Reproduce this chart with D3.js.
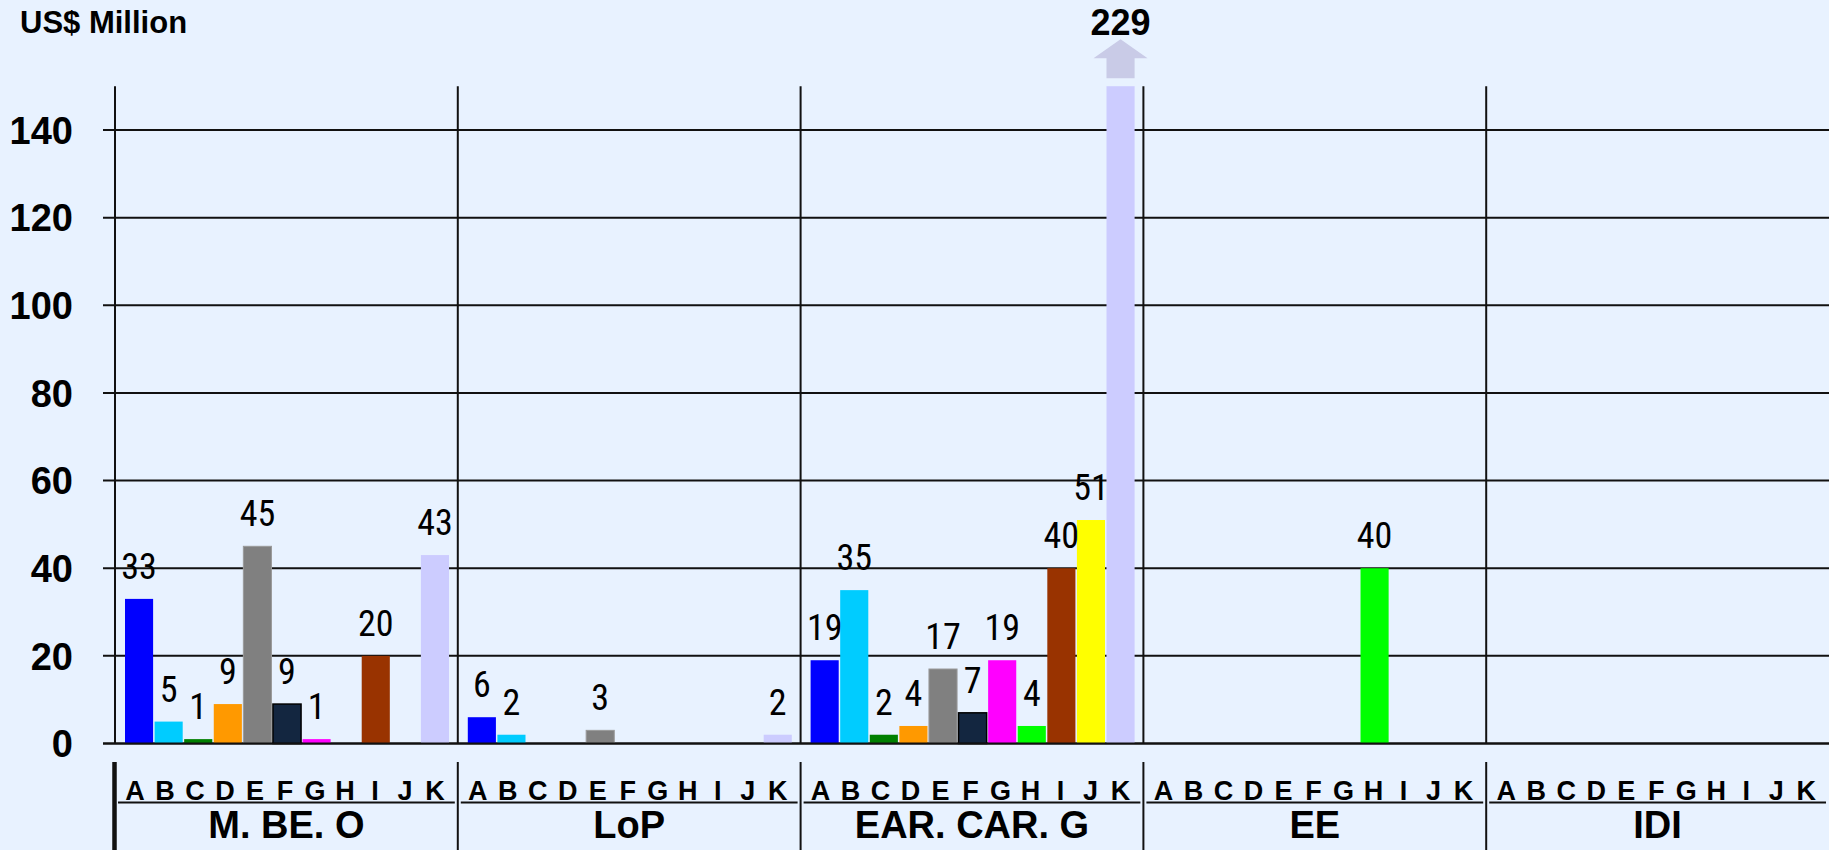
<!DOCTYPE html>
<html><head><meta charset="utf-8">
<script src="https://cdn.jsdelivr.net/npm/d3@7"></script>
<style>html,body{margin:0;padding:0;background:#e8f2ff;} svg{display:block}</style>
</head><body><svg id="c" width="1829" height="850"></svg>
<script>
const groups = ["M. BE. O", "LoP", "EAR. CAR. G", "EE", "IDI"];
const categories = ["A","B","C","D","E","F","G","H","I","J","K"];
const colors = ["#0000ff","#00ccff","#008000","#ff9900","#808080","#132640","#ff00ff","#00ff00","#993300","#ffff00","#ccccff"];
const valuesMBEO = [33, 5, 1, 9, 45, 9, 1, 0, 20, 0, 43];
const valuesLoP  = [6, 2, 0, 0, 3, 0, 0, 0, 0, 0, 2];
const valuesEAR  = [19, 35, 2, 4, 17, 7, 19, 4, 40, 51, 229];
const valuesEE   = [0, 0, 0, 0, 0, 0, 0, 40, 0, 0, 0];
const valuesIDI  = [0, 0, 0, 0, 0, 0, 0, 0, 0, 0, 0];
const yTicks = [0, 20, 40, 60, 80, 100, 120, 140];
const yMax = 150;
const unitLabel = "US$ Million";

const seriesByGroup = [valuesMBEO, valuesLoP, valuesEAR, valuesEE, valuesIDI];
const data = [];
groups.forEach((g, gi) => categories.forEach((c, ci) => data.push({group: g, cat: c, value: seriesByGroup[gi][ci], color: colors[ci]})));

const W = 1829, H = 850;
const svg = d3.select("#c");
svg.append("rect").attr("width", W).attr("height", H).attr("fill", "#e8f2ff");

const y = d3.scaleLinear().domain([0, yMax]).range([743.5, 86.2]);
const x0 = d3.scaleBand().domain(groups).range([115, W]);
const x1 = d3.scaleBand().domain(categories).range([10, 334]).paddingInner(0.05);
const xl = d3.scalePoint().domain(categories).range([20, 320]);

const fontB = "'Liberation Sans', Arial, sans-serif";
const fontN = "'Liberation Sans Narrow', 'Arial Narrow', 'Roboto Condensed', sans-serif";

// horizontal grid + y tick labels
const grid = svg.append("g");
grid.selectAll("line").data(yTicks).join("line")
  .attr("x1", 103).attr("x2", W)
  .attr("y1", d => y(d)).attr("y2", d => y(d))
  .attr("stroke", "#111").attr("stroke-width", 2);
grid.selectAll("text").data(yTicks).join("text")
  .attr("x", 73).attr("y", d => y(d)).attr("dy", "0.36em")
  .attr("text-anchor", "end")
  .attr("font-family", fontB).attr("font-weight", "bold").attr("font-size", 38)
  .attr("fill", "#000").text(d => d);

// vertical group separators in plot
svg.append("g").selectAll("line").data(groups).join("line")
  .attr("x1", d => x0(d)).attr("x2", d => x0(d))
  .attr("y1", y(yMax)).attr("y2", y(0))
  .attr("stroke", "#111").attr("stroke-width", 2);

// bars
const bars = svg.append("g");
bars.selectAll("rect").data(data.filter(d => d.value > 0)).join("rect")
  .attr("x", d => x0(d.group) + x1(d.cat))
  .attr("width", x1.bandwidth())
  .attr("y", d => y(Math.min(d.value, yMax)))
  .attr("height", d => y(0) - y(Math.min(d.value, yMax)))
  .attr("fill", d => d.color)
  .attr("stroke", d => d.cat === "F" ? "#000" : (d.cat === "E" ? "#9a9a9a" : "none"))
  .attr("stroke-width", d => d.cat === "F" ? 1.5 : 1);

// redraw baseline over bars
svg.append("line").attr("x1", 103).attr("x2", W).attr("y1", y(0)).attr("y2", y(0))
  .attr("stroke", "#111").attr("stroke-width", 2);

// value labels
const labels = svg.append("g");
labels.selectAll("text").data(data.filter(d => d.value > 0 && d.value <= yMax)).join("text")
  .attr("x", d => x0(d.group) + x1(d.cat) + x1.bandwidth() / 2)
  .attr("y", d => y(d.value) - 20)
  .attr("text-anchor", "middle")
  .attr("font-family", fontN).attr("font-size", 36).attr("fill", "#000")
  .text(d => d.value);

// overflow bars: arrow + bold label
const over = data.filter(d => d.value > yMax);
over.forEach(d => {
  const bx = x0(d.group) + x1(d.cat), bw = x1.bandwidth(), cx = bx + bw / 2, top = y(yMax);
  const sb = top - 8, st = top - 28, tip = top - 47, hw = bw / 2 + 13;
  svg.append("path")
    .attr("d", `M${bx},${sb} L${bx},${st} L${cx - hw},${st} L${cx},${tip} L${cx + hw},${st} L${bx + bw},${st} L${bx + bw},${sb} Z`)
    .attr("fill", "#c9cbe7");
  svg.append("text").attr("x", cx).attr("y", top - 51)
    .attr("text-anchor", "middle")
    .attr("font-family", fontB).attr("font-weight", "bold").attr("font-size", 36)
    .attr("fill", "#000").text(d.value);
});

// bottom axis: category letters
const bottom = svg.append("g");
groups.forEach(g => {
  bottom.append("g").selectAll("text").data(categories).join("text")
    .attr("x", c => x0(g) + xl(c)).attr("y", 800)
    .attr("text-anchor", "middle")
    .attr("font-family", fontB).attr("font-weight", "bold").attr("font-size", 27)
    .attr("fill", "#000").text(c => c);
  bottom.append("line")
    .attr("x1", x0(g) + 3).attr("x2", x0(g) + x0.bandwidth() - 3)
    .attr("y1", 802.5).attr("y2", 802.5)
    .attr("stroke", "#111").attr("stroke-width", 2);
  bottom.append("text")
    .attr("x", x0(g) + x0.bandwidth() / 2).attr("y", 838)
    .attr("text-anchor", "middle")
    .attr("font-family", fontB).attr("font-weight", "bold").attr("font-size", 38)
    .attr("fill", "#000").text(g);
});
bottom.selectAll("line.sep").data(groups).join("line").attr("class", "sep")
  .attr("x1", (d, i) => i === 0 ? x0(d) - 0.5 : x0(d)).attr("x2", (d, i) => i === 0 ? x0(d) - 0.5 : x0(d))
  .attr("y1", 762).attr("y2", H)
  .attr("stroke", "#111").attr("stroke-width", (d, i) => i === 0 ? 4.5 : 2);

// unit label
svg.append("text").attr("x", 20).attr("y", 33)
  .attr("font-family", fontB).attr("font-weight", "bold").attr("font-size", 31)
  .attr("fill", "#000").text(unitLabel);
</script>
</body></html>
